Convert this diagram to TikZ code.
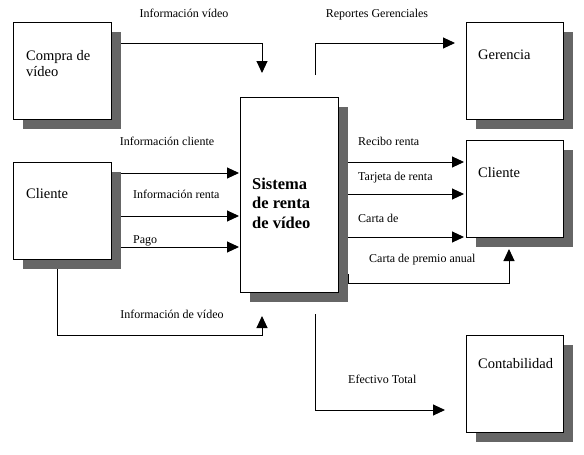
\documentclass[tikz,border=0pt]{standalone}
\usepackage{fontspec}
\setmainfont{Liberation Serif}
\usetikzlibrary{arrows.meta,shadows}
\begin{document}
\begin{tikzpicture}[x=1pt,y=-1pt,
  box/.style={draw, line width=1pt, fill=white, inner sep=0pt, anchor=north west,
    minimum width=98pt, minimum height=97pt,
    drop shadow={shadow xshift=9pt, shadow yshift=-9pt, fill=black!60, opacity=1}},
  arr/.style={line width=1pt, -{Triangle[length=12pt,width=11pt]}},
  lbl/.style={font=\fontsize{12}{14}\selectfont, inner sep=0pt},
  btxt/.style={font=\fontsize{14.5}{16}\selectfont, inner sep=0pt, anchor=base west, align=left}]
\useasboundingbox (0,0) rectangle (584,455);
% boxes
\node[box] (compra) at (13,22) {};
\node[box, minimum width=97pt] (gerencia) at (466,22) {};
\node[box] (clienteL) at (13,162) {};
\node[box, minimum width=97pt] (clienteR) at (466,140) {};
\node[box, minimum width=97pt] (contab) at (466,335) {};
\node[box, minimum height=195pt] (sistema) at (240,97) {};
% box texts (base anchor = last line)
\node[btxt] (compraT) at (26,76) {Compra de\\vídeo};
\node[btxt] (gerenciaT) at (478,59) {Gerencia};
\node[btxt] (clienteLT) at (26,198) {Cliente};
\node[btxt] (clienteRT) at (478,177) {Cliente};
\node[btxt] (contabT) at (478,368) {Contabilidad};
\node[inner sep=0pt, anchor=base west, align=left, font=\bfseries\fontsize{16.5}{19.5}\selectfont] (sistemaT) at (252,228) {Sistema\\de renta\\de vídeo};
% free ends
\coordinate (t1) at ([shift={(22,-24)}]sistema.north west);
\coordinate (s2) at ([shift={(75,-22)}]sistema.north west);
\coordinate (t2) at ([shift={(-11,21)}]gerencia.north west);
\coordinate (s4) at ([shift={(44,9)}]clienteL.south west);
\coordinate (t4) at ([shift={(22,23)}]sistema.south west);
\coordinate (s6) at ([shift={(9,-19)}]sistema.south east);
\coordinate (t6) at ([shift={(43,11)}]clienteR.south west);
\coordinate (s7) at ([shift={(75,21)}]sistema.south west);
\coordinate (t7) at ([shift={(-21,75)}]contab.north west);
% connectors
\draw[arr] ([shift={(9,21)}]compra.north east) -| (t1);
\draw[arr] (s2) |- (t2);
\draw[arr, shorten >=10pt] ([shift={(9,11)}]clienteL.north east) -- ([shift={(9,11)}]clienteL.north east -| sistema.west);
\draw[arr, shorten >=10pt] ([shift={(9,54)}]clienteL.north east) -- ([shift={(9,54)}]clienteL.north east -| sistema.west);
\draw[arr, shorten >=10pt] ([shift={(9,85)}]clienteL.north east) -- ([shift={(9,85)}]clienteL.north east -| sistema.west);
\draw[arr] (s4) -- ++(0,66) -| (t4);
\draw[arr, shorten >=11pt] ([shift={(9,65)}]sistema.north east) -- ([shift={(9,65)}]sistema.north east -| clienteR.west);
\draw[arr, shorten >=11pt] ([shift={(9,97)}]sistema.north east) -- ([shift={(9,97)}]sistema.north east -| clienteR.west);
\draw[arr, shorten >=11pt] ([shift={(9,140)}]sistema.north east) -- ([shift={(9,140)}]sistema.north east -| clienteR.west);
\draw[arr] (s6) -- ++(0,9) -| (t6);
\draw[arr] (s7) |- (t7);
% labels
\node[lbl, anchor=base] (l1) at (184,17) {Información vídeo};
\node[lbl, anchor=base] (l2) at (377,17) {Reportes Gerenciales};
\node[lbl, anchor=base] (l3) at (167,145) {Información cliente};
\node[lbl, anchor=base west] (l4) at (133,198) {Información renta};
\node[lbl, anchor=base west] (l5) at (133,243) {Pago};
\node[lbl, anchor=base] (l6) at (172,318) {Información de vídeo};
\node[lbl, anchor=base west] (l7) at (358,145) {Recibo renta};
\node[lbl, anchor=base west] (l8) at (358,180) {Tarjeta de renta};
\node[lbl, anchor=base west] (l9) at (358,222) {Carta de};
\node[lbl, anchor=base west] (l10) at (369,262) {Carta de premio anual};
\node[lbl, anchor=base west] (l11) at (348,383) {Efectivo Total};
\end{tikzpicture}
\end{document}
